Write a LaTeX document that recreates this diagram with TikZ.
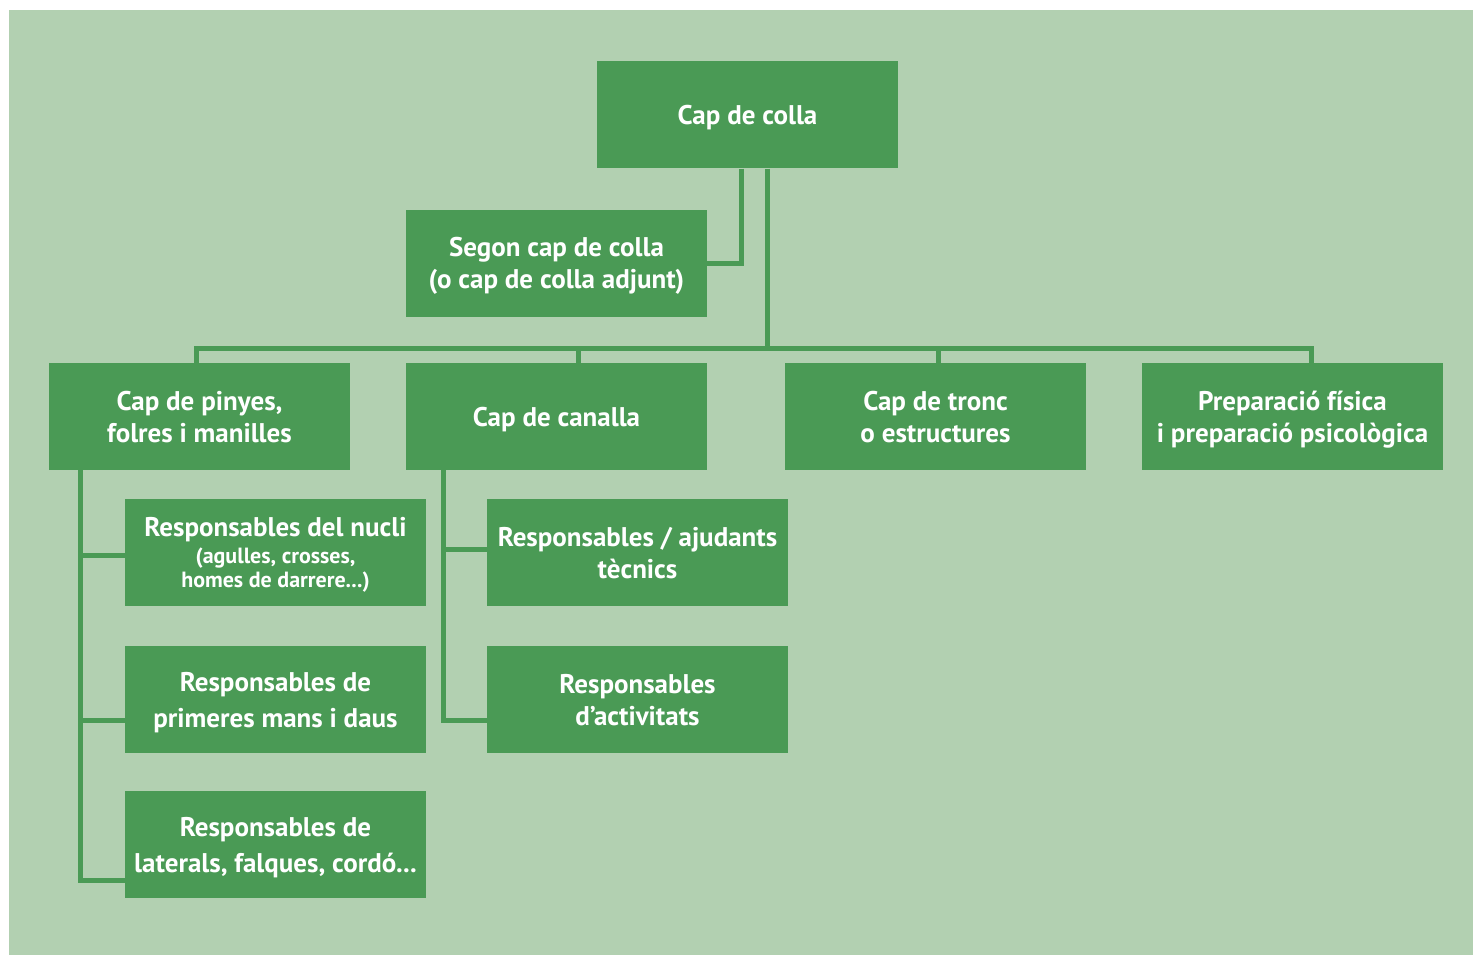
\documentclass[tikz,border=0pt]{standalone}
\usepackage{fontspec}
\setmainfont{PT Sans}
\definecolor{bg}{HTML}{B2D0B1}
\definecolor{bx}{HTML}{4A9A55}
\newcommand\topst{\rule{0pt}{26.4pt}}
\newcommand\botst{\rule[-7pt]{0pt}{0pt}}
\begin{document}
\begin{tikzpicture}[x=1pt,y=-1pt,
  box/.style={rectangle, fill=bx, draw=none, minimum width=301pt, minimum height=107pt,
    inner sep=0pt, align=center, text=white, font=\bfseries\fontsize{27}{32}\selectfont},
  conn/.style={draw=bx, line width=5pt, line join=miter}]
\useasboundingbox (0,0) rectangle (1473,955);
\fill[bg] (9,10) rectangle (1473,955);
\node[box] (colla) at (747.5,115) {\topst Cap de colla\botst};
\node[box] (segon) at (556.5,263) {\topst Segon cap de colla\\(o cap de colla adjunt)\botst};
\node[box] (pinyes) at (199.5,416.5) {\topst Cap de pinyes,\\folres i manilles\botst};
\node[box] (canalla) at (556.5,416.5) {\topst Cap de canalla\botst};
\node[box] (tronc) at (935.5,416.5) {\topst Cap de tronc\\o estructures\botst};
\node[box] (prep) at (1292.5,416.5) {\topst Preparació física\\i preparació psicològica\botst};
\node[box] (nucli) at (275.5,552.5) {\topst Responsables del nucli\\[-5pt]{\fontsize{22}{24}\selectfont (agulles, crosses,}\\[-8pt]{\fontsize{22}{24}\selectfont homes de darrere...)}\botst};
\node[box] (primeres) at (275.5,699.5) {\topst Responsables de\\[4pt]primeres mans i daus\botst};
\node[box] (laterals) at (275.5,844.5) {\topst Responsables de\\[4pt]laterals, falques, cordó...\botst};
\node[box] (tecnics) at (637.5,552.5) {\topst Responsables / ajudants\\tècnics\botst};
\node[box] (activitats) at (637.5,699.5) {\topst Responsables\\d’activitats\botst};
\coordinate (busL) at (196,348);
\coordinate (busR) at (1311,348);
% connectors
\draw[conn] ([xshift=-6.5pt]colla.south) |- (segon.east);
\draw[conn] ([xshift=19.5pt]colla.south) -- ([xshift=19.5pt]colla.south |- busL);
\draw[conn] ([xshift=-3.5pt]pinyes.north) |- (busR) -- ([xshift=18.5pt]prep.north);
\draw[conn] ([xshift=21.5pt]canalla.north) -- ([xshift=21.5pt]canalla.north |- busL);
\draw[conn] ([xshift=2.5pt]tronc.north) -- ([xshift=2.5pt]tronc.north |- busL);
\draw[conn] ([xshift=-119.5pt]pinyes.south) |- ([yshift=-35.5pt]laterals.west);
\draw[conn] ([xshift=-119.5pt]pinyes.south |- nucli.west) ++(0,2.5) -- ([yshift=-2.5pt]nucli.west);
\draw[conn] ([xshift=-119.5pt]pinyes.south |- primeres.west) ++(0,20.5) -- ([yshift=-20.5pt]primeres.west);
\draw[conn] ([xshift=-113.5pt]canalla.south) |- ([yshift=-20.5pt]activitats.west);
\draw[conn] ([xshift=-113.5pt]canalla.south |- tecnics.west) ++(0,-3.5) -- ([yshift=3.5pt]tecnics.west);
\end{tikzpicture}
\end{document}
